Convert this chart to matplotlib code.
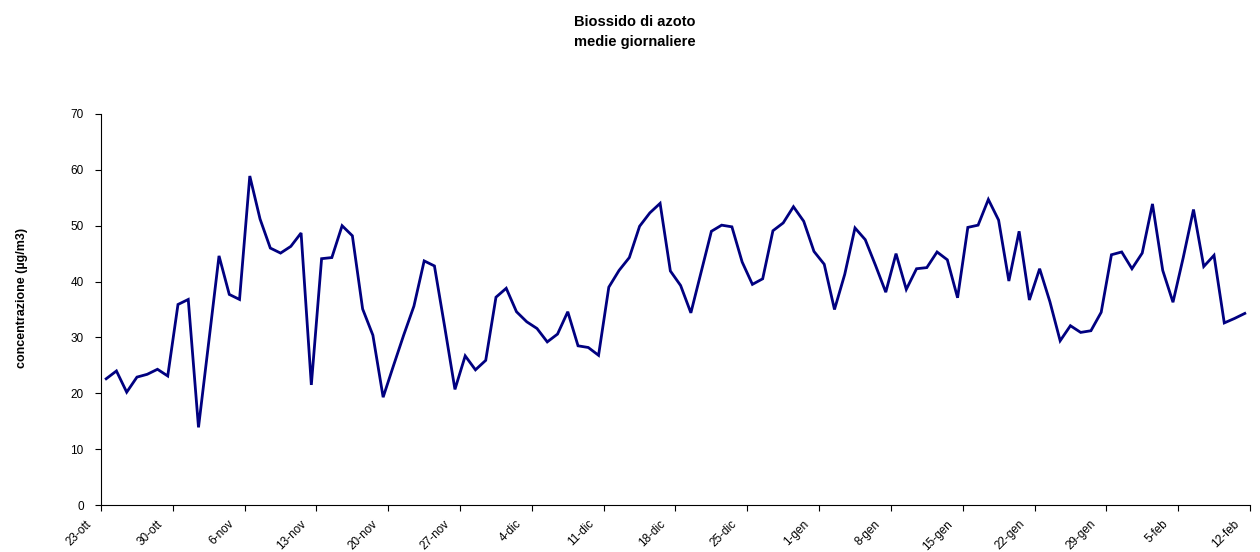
import numpy as np
import matplotlib
matplotlib.use('Agg')
import matplotlib.pyplot as plt
from matplotlib.transforms import ScaledTranslation

plt.rcParams['font.family'] = ['Liberation Sans', 'DejaVu Sans']

# medie giornaliere NO2, dal 23-ott al 11-feb
no2 = [22.6, 24.0, 20.2, 22.9, 23.4, 24.3, 23.1, 35.9, 36.8, 13.9,
       29.2, 44.6, 37.7, 36.8, 58.9, 51.2, 46.0, 45.1, 46.3, 48.7,
       21.5, 44.1, 44.3, 50.0, 48.2, 35.1, 30.4, 19.3, 24.9, 30.4,
       35.6, 43.7, 42.8, 31.9, 20.7, 26.7, 24.2, 25.9, 37.2, 38.8,
       34.6, 32.8, 31.6, 29.2, 30.6, 34.6, 28.5, 28.2, 26.8, 39.0,
       42.0, 44.3, 49.9, 52.3, 54.0, 41.9, 39.3, 34.4, 41.7, 49.0,
       50.1, 49.8, 43.5, 39.5, 40.5, 49.1, 50.5, 53.4, 50.8, 45.4,
       43.1, 35.0, 41.3, 49.6, 47.5, 42.9, 38.1, 45.0, 38.6, 42.3,
       42.5, 45.3, 43.9, 37.1, 49.7, 50.1, 54.7, 51.0, 40.1, 49.0,
       36.7, 42.3, 36.4, 29.4, 32.1, 30.9, 31.2, 34.5, 44.8, 45.3,
       42.3, 45.1, 53.9, 42.0, 36.3, 44.3, 52.9, 42.7, 44.7, 32.6,
       33.4, 34.3]

tick_labels = ['23-ott', '30-ott', '6-nov', '13-nov', '20-nov', '27-nov',
               '4-dic', '11-dic', '18-dic', '25-dic', '1-gen', '8-gen',
               '15-gen', '22-gen', '29-gen', '5-feb', '12-feb']

fig = plt.figure(figsize=(12.6, 5.52), dpi=100)
ax = fig.add_axes([0.0802, 0.0851, 0.9118, 0.7084])

# punti al centro di ogni giorno (asse "tra i segni di graduazione")
x = np.arange(len(no2)) + 0.5
ax.plot(x, no2, color='#000080', lw=2.0, solid_joinstyle='miter')

ax.set_xlim(0, 112)
ax.set_ylim(0, 70)
ax.set_yticks(np.arange(0, 71, 10))
ax.set_xticks(np.arange(0, 113, 7))
ax.set_xticklabels(tick_labels, rotation=45, ha='right', va='center',
                   rotation_mode='anchor')
ax.tick_params(axis='both', labelsize=8.5, length=4.5, width=0.8, direction='out')
ax.tick_params(axis='y', pad=8)
ax.tick_params(axis='x', pad=0)

# etichette spostate in basso a sinistra come nel grafico Excel
shift = ScaledTranslation(-0.12, -0.11, fig.dpi_scale_trans)
for lab in ax.get_xticklabels():
    lab.set_transform(lab.get_transform() + shift)

for s in ['top', 'right']:
    ax.spines[s].set_visible(False)

ax.set_ylabel('concentrazione (µg/m3)', fontsize=9, fontweight='bold')
ax.yaxis.set_label_coords(-0.0635, 0.529)

fig.text(0.504, 0.96, 'Biossido di azoto', ha='center', va='center',
         fontsize=10.5, fontweight='bold')
fig.text(0.504, 0.924, 'medie giornaliere', ha='center', va='center',
         fontsize=10.5, fontweight='bold')

fig.savefig('out.png', dpi=100)
